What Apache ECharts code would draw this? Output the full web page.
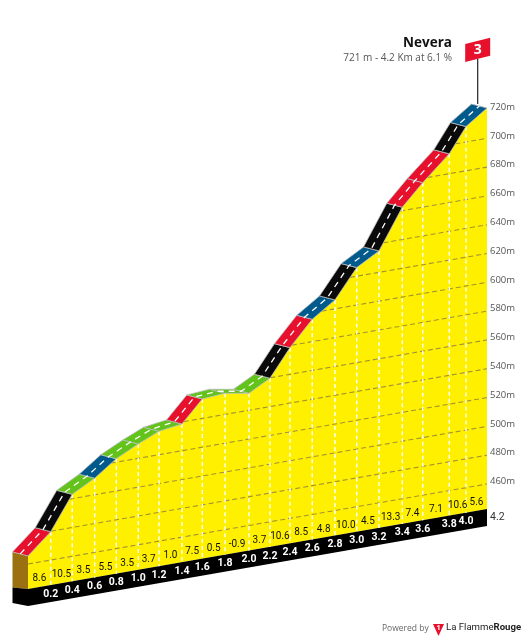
<!DOCTYPE html>
<html>
<head>
<meta charset="utf-8">
<script src="https://cdn.jsdelivr.net/npm/echarts@6/dist/echarts.min.js"></script>
<style>html,body{margin:0;padding:0;background:#fff}#c{width:524px;height:640px}</style>
</head>
<body>
<div id="c"></div>
<script>
var climbName = 'Nevera';
var climbInfo = '721 m - 4.2 Km at 6.1 %';
var categoryMark = '3';
var kmPositions = [0, 0.208, 0.405, 0.61, 0.808, 1.009, 1.199, 1.409, 1.595, 1.803, 2.022, 2.214, 2.397, 2.601, 2.809, 3.008, 3.212, 3.425, 3.612, 3.855, 4.008, 4.2];
var kmLabels = ['', '0.2', '0.4', '0.6', '0.8', '1.0', '1.2', '1.4', '1.6', '1.8', '2.0', '2.2', '2.4', '2.6', '2.8', '3.0', '3.2', '3.4', '3.6', '3.8', '4.0', '4.2'];
var elevations = [465.6, 479.7, 503, 511.5, 522.4, 530, 536.3, 538.6, 553.5, 554.7, 551.8, 559.7, 578.5, 595.5, 606.2, 626, 634.9, 662.4, 677, 693.8, 710.7, 721];
var gradients = ['8.6', '10.5', '3.5', '5.5', '3.5', '3.7', '1.0', '7.5', '0.5', '-0.9', '3.7', '10.6', '8.5', '4.8', '10.0', '4.5', '13.3', '7.4', '7.1', '10.6', '5.6'];
var gridLevels = [460, 480, 500, 520, 540, 560, 580, 600, 620, 640, 660, 680, 700];
var baseElevation = 442.6;

var SLOPE = 0.1743, ROAD_DX = -15.5, ROAD_DY = -4, BAND = 17;
var YELLOW = '#fff000', NARROW = '"Liberation Sans Narrow","Roboto",sans-serif';

function gradientColor(g) {
  g = parseFloat(g);
  if (g >= 10) return '#0a0a0a';
  if (g >= 7) return '#e8112d';
  if (g >= 4) return '#005a8c';
  return '#62c31a';
}
function proj(api, km, e) {
  var c = api.coord([km, e]);
  var xr = api.coord([4.2, e])[0];
  return [c[0], c[1] + SLOPE * (xr - c[0])];
}
function firstCrossing(level) {
  if (level <= elevations[0]) return 0;
  for (var i = 0; i < elevations.length - 1; i++) {
    if (elevations[i] <= level && elevations[i + 1] > level) {
      var t = (level - elevations[i]) / (elevations[i + 1] - elevations[i]);
      return kmPositions[i] + t * (kmPositions[i + 1] - kmPositions[i]);
    }
  }
  return 4.2;
}
function layer(data, render, z) {
  return { type: 'custom', coordinateSystem: 'cartesian2d', data: data, renderItem: render, z: z, silent: true, clip: false, animation: false, encode: { x: 0, y: 1 } };
}
var indexData = kmPositions.map(function (k, i) { return [k, elevations[i], i]; });
var segData = indexData.slice(0, -1);

var bodySeries = layer([[0, baseElevation]], function (p, api) {
  var pts = indexData.map(function (d) { return proj(api, d[0], d[1]); });
  var bl = proj(api, 0, baseElevation), br = proj(api, 4.2, baseElevation);
  var f0 = pts[0];
  return { type: 'group', children: [
    { type: 'polygon', shape: { points: pts.concat([br, bl]) }, style: { fill: YELLOW } },
    { type: 'polygon', shape: { points: [bl, br, [br[0], br[1] + BAND], [bl[0], bl[1] + BAND]] }, style: { fill: '#000' } },
    { type: 'polygon', shape: { points: [f0, [f0[0] + ROAD_DX, f0[1] + ROAD_DY], [bl[0] + ROAD_DX, bl[1] - 1.5], bl] }, style: { fill: '#9a7010' } },
    { type: 'polygon', shape: { points: [bl, [bl[0] + ROAD_DX, bl[1] - 1.5], [bl[0] + ROAD_DX, bl[1] + BAND - 3], [bl[0], bl[1] + BAND]] }, style: { fill: '#000' } }
  ] };
}, 1);

var levelSeries = layer(gridLevels.map(function (l) { return [4.2, l]; }), function (p, api) {
  var l = api.value(1), a = proj(api, firstCrossing(l), l), b = proj(api, 4.2, l);
  return { type: 'line', shape: { x1: a[0], y1: a[1], x2: b[0], y2: b[1] }, style: { stroke: '#a39332', lineWidth: 1.1, lineDash: [5, 3] } };
}, 2);

var verticalSeries = layer(indexData.slice(1, -1), function (p, api) {
  var k = api.value(0), a = proj(api, k, api.value(1)), b = proj(api, k, baseElevation);
  return { type: 'line', shape: { x1: a[0], y1: a[1], x2: b[0], y2: b[1] }, style: { stroke: '#fff', lineWidth: 1.4, lineDash: [4, 3] } };
}, 3);

var roadSeries = layer(segData, function (p, api) {
  var i = api.value(2);
  var a = proj(api, kmPositions[i], elevations[i]), b = proj(api, kmPositions[i + 1], elevations[i + 1]);
  return { type: 'polygon', shape: { points: [a, b, [b[0] + ROAD_DX, b[1] + ROAD_DY], [a[0] + ROAD_DX, a[1] + ROAD_DY]] }, style: { fill: gradientColor(gradients[i]), stroke: '#bdbdbd', lineWidth: 0.8 } };
}, 4);

var dashSeries = layer([[0, baseElevation]], function (p, api) {
  var pts = indexData.map(function (d) { var q = proj(api, d[0], d[1]); return [q[0] + ROAD_DX / 2, q[1] + ROAD_DY / 2]; });
  return { type: 'polyline', shape: { points: pts }, style: { stroke: '#fff', fill: null, lineWidth: 1.3, lineDash: [6, 5] } };
}, 5);

var gradientSeries = layer(segData, function (p, api) {
  var i = api.value(2), k = (kmPositions[i] + kmPositions[i + 1]) / 2, b = proj(api, k, baseElevation);
  return { type: 'text', style: { x: b[0], y: b[1] - 8.5, text: gradients[i], fill: '#111', font: '10px ' + NARROW, align: 'center', verticalAlign: 'middle' } };
}, 6);

var kmSeries = layer(indexData.slice(1, -1), function (p, api) {
  var i = api.value(2), b = proj(api, kmPositions[i], baseElevation);
  return { type: 'text', style: { x: b[0], y: b[1] + 9, text: kmLabels[i], fill: '#fff', font: 'bold 10.5px ' + NARROW, align: 'center', verticalAlign: 'middle' } };
}, 6);

var endKmSeries = layer([[4.2, baseElevation]], function (p, api) {
  var b = proj(api, 4.2, baseElevation);
  return { type: 'text', style: { x: b[0] + 3, y: b[1] + 8, text: kmLabels[kmLabels.length - 1], fill: '#333', font: '10.5px ' + NARROW, align: 'left', verticalAlign: 'middle' } };
}, 6);

var flagSeries = layer([[4.2, 721]], function (p, api) {
  var t = proj(api, 4.2, 721), px = t[0] + ROAD_DX * 0.6, py = t[1] + ROAD_DY;
  var lowY = py - 42, l = px - 12.5, r = px + 12.5;
  return { type: 'group', children: [
    { type: 'line', shape: { x1: px, y1: py, x2: px, y2: lowY - 3 }, style: { stroke: '#222', lineWidth: 1.2 } },
    { type: 'polygon', shape: { points: [[l, lowY - 18], [r, lowY - 24.3], [r, lowY - 6.3], [l, lowY]] }, style: { fill: '#e8112d' } },
    { type: 'text', style: { x: px, y: lowY - 12, text: categoryMark, fill: '#fff', font: 'bold 14px "Open Sans",sans-serif', align: 'center', verticalAlign: 'middle' } }
  ] };
}, 7);

var option = {
  animation: false,
  backgroundColor: '#fff',
  title: {
    text: climbName, subtext: climbInfo, left: 452, top: 36, textAlign: 'right', itemGap: 3,
    textStyle: { fontFamily: '"Open Sans",sans-serif', fontWeight: 'bold', fontSize: 13.5, color: '#111' },
    subtextStyle: { fontFamily: '"Open Sans",sans-serif', fontSize: 10, color: '#555' },
    padding: 0
  },
  grid: { left: 28, right: 37, top: 109.5, bottom: 127.2, containLabel: false },
  xAxis: { type: 'value', min: 0, max: 4.2, show: false },
  yAxis: {
    type: 'value', min: 440, max: 720, interval: 20, position: 'right',
    axisLine: { show: false }, axisTick: { show: false }, splitLine: { show: false },
    axisLabel: {
      margin: 3, fontFamily: '"Open Sans",sans-serif', fontSize: 9.5, color: '#555',
      verticalAlign: 'bottom', lineHeight: 5,
      formatter: function (v) { return v === 440 ? '' : v + 'm'; }
    }
  },
  series: [bodySeries, levelSeries, verticalSeries, roadSeries, dashSeries, gradientSeries, kmSeries, endKmSeries, flagSeries],
  graphic: [
    { type: 'text', left: 382, top: 624, style: { text: 'Powered by', font: '8.5px "Open Sans",sans-serif', fill: '#666' } },
    { type: 'polygon', shape: { points: [[433, 624], [444, 624], [438.5, 636]] }, style: { fill: '#e8112d' } },
    { type: 'text', left: 436.5, top: 624, style: { text: '1', font: 'bold 7px "Open Sans",sans-serif', fill: '#fff' } },
    { type: 'text', left: 446, top: 623, style: { rich: { a: { font: '9.6px Roboto,sans-serif', fill: '#222' }, b: { font: 'bold 9.6px Roboto,sans-serif', fill: '#222' } }, text: '{a|La Flamme}{b|Rouge}' } }
  ]
};
var chart = echarts.init(document.getElementById('c'), null, { renderer: 'canvas' });
chart.setOption(option);
</script>
</body>
</html>
